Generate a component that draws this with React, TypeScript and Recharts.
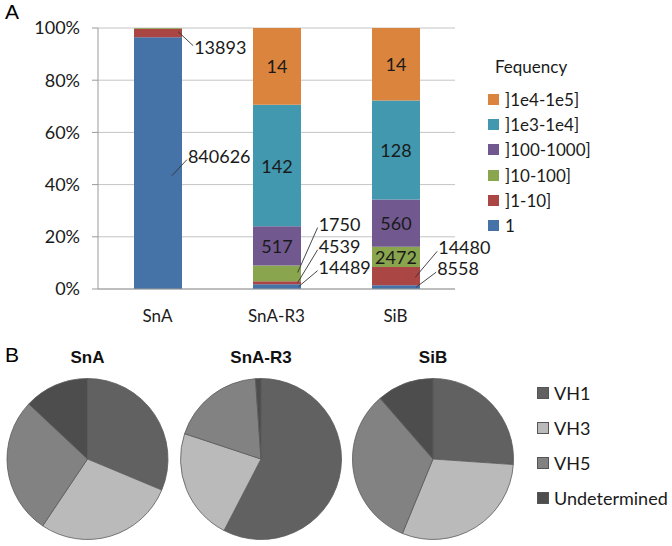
import React from "react"
import {
  BarChart,
  Bar,
  XAxis,
  YAxis,
  CartesianGrid,
  LabelList,
  Legend,
  PieChart,
  Pie,
  Cell,
} from "recharts"

// ---- panel A data (share of reads in %, and the counts printed on the segments)
const categories = ["SnA", "SnA-R3", "SiB"]
const bandNames = ["1", "]1-10]", "]10-100]", "]100-1000]", "]1e3-1e4]", "]1e4-1e5]"]
const bandColors = ["#4572A7", "#AA4643", "#89A54E", "#71588F", "#4198AF", "#DB843D"]

const share1 = [96.5, 1.8, 1.4]
const share1to10 = [3.2, 1.2, 7.0]
const share10to100 = [0.3, 6.0, 7.8]
const share100to1000 = [0, 15.0, 18.1]
const share1e3to1e4 = [0, 46.6, 37.9]
const share1e4to1e5 = [0, 29.4, 27.8]

const count1 = [840626, 14489, 8558]
const count1to10 = [13893, 4539, 14480]
const count10to100 = [null, 1750, 2472]
const count100to1000 = [null, 517, 560]
const count1e3to1e4 = [null, 142, 128]
const count1e4to1e5 = [null, 14, 14]

// ---- panel B data (% of each VH family)
const pieNames = ["VH1", "VH3", "VH5", "Undetermined"]
const pieColors = ["#616161", "#bababa", "#828282", "#4d4d4d"]
const vh1 = [31.3, 57.6, 26.1]
const vh3 = [28.1, 22.5, 30.1]
const vh5 = [27.6, 18.8, 32.4]
const undetermined = [13.0, 1.1, 11.4]

const shares = [share1, share1to10, share10to100, share100to1000, share1e3to1e4, share1e4to1e5]
const counts = [count1, count1to10, count10to100, count100to1000, count1e3to1e4, count1e4to1e5]

const barData = categories.map((name, i) => {
  const row: Record<string, any> = { name }
  shares.forEach((s, k) => {
    row["s" + k] = s[i]
    row["c" + k] = counts[k][i]
  })
  return row
})

const pieData = categories.map((_, i) =>
  pieNames.map((name, k) => ({ name, value: [vh1, vh3, vh5, undetermined][k][i] }))
)

// callouts: anchor as fraction of the segment, text offset from the anchor
type Callout = { fx: number; fy: number; dx: number; dy: number } | null
const callouts: Callout[][] = [
  // "1"
  [{ fx: 0.79, fy: 0.55, dx: 16, dy: -20 }, { fx: 0.95, fy: 0.5, dx: 20, dy: -20 }, { fx: 0.92, fy: 0.5, dx: 21, dy: -19 }],
  // "]1-10]"
  [{ fx: 0.92, fy: 0.35, dx: 16, dy: 15 }, { fx: 0.93, fy: 0.5, dx: 21, dy: -37 }, { fx: 0.9, fy: 0.56, dx: 23, dy: -30 }],
  // "]10-100]"
  [null, { fx: 0.93, fy: 0.45, dx: 21, dy: -49 }, null],
  [null, null, null],
  [null, null, null],
  [null, null, null],
]

const FONT = "Lato, 'Open Sans', sans-serif"
const AXIS = "#9a9a9a"

function segmentLabel(k: number) {
  return (props: any) => {
    const { x, y, width, height, value, index } = props
    if (value == null) return null
    const c = callouts[k][index]
    if (!c) {
      return (
        <text x={x + width / 2} y={y + height / 2} textAnchor="middle" dominantBaseline="central"
          fontSize={18} fontFamily={FONT} fill="#1a1a1a">{value}</text>
      )
    }
    const ax = x + width * c.fx
    const ay = y + height * c.fy
    const tx = ax + c.dx
    const ty = ay + c.dy
    return (
      <g>
        <line x1={ax} y1={ay} x2={tx - 1} y2={ty + (c.dy < 0 ? 4 : -1)} stroke="#333" strokeWidth={0.9} />
        <text x={tx} y={ty} dominantBaseline="central" fontSize={18} fontFamily={FONT} fill="#1a1a1a">{value}</text>
      </g>
    )
  }
}

function BandLegend(props: any) {
  const items = [...(props.payload || [])].reverse()
  return (
    <div style={{ fontFamily: FONT, color: "#1a1a1a" }}>
      <div style={{ fontSize: 17, marginLeft: 7, height: 24, lineHeight: "24px" }}>Fequency</div>
      <div style={{ height: 8 }} />
      {items.map((it: any) => (
        <div key={it.value} style={{ display: "flex", alignItems: "center", height: 25.2, fontSize: 17 }}>
          <span style={{ width: 11, height: 11, background: it.color, marginRight: 6 }} />
          {it.value}
        </div>
      ))}
    </div>
  )
}

function VhLegend(props: any) {
  const byName = new Map<string, any>()
  ;(props.payload || []).forEach((it: any) => {
    if (!byName.has(it.value)) byName.set(it.value, it)
  })
  return (
    <div style={{ fontFamily: FONT, color: "#1a1a1a" }}>
      {pieNames.filter((n) => byName.has(n)).map((n, k) => (
        <div key={n} style={{ display: "flex", alignItems: "center", height: 34.8, fontSize: 18 }}>
          <span style={{ width: 10, height: 10, background: pieColors[k], border: "1px solid #555", marginRight: 5 }} />
          {n}
        </div>
      ))}
    </div>
  )
}

const pieCenters = [87.5, 261, 433]

export default function App() {
  return (
    <div style={{ position: "absolute", left: 0, top: 0, width: 672, height: 546, background: "#fff", fontFamily: FONT }}>
      <div style={{ position: "absolute", left: 5, top: 0, fontSize: 21, fontFamily: "'Liberation Sans', Arial", lineHeight: "24px" }}>A</div>
      <div style={{ position: "absolute", left: 5, top: 343, fontSize: 21, fontFamily: "'Liberation Sans', Arial", lineHeight: "24px" }}>B</div>

      <div style={{ position: "absolute", left: 0, top: 0 }}>
        <BarChart width={672} height={330} data={barData} margin={{ top: 28, right: 217, left: 38, bottom: 11 }}>
          <CartesianGrid xAxisId="cat" vertical={false} stroke="#c4c4c4" />
          <XAxis xAxisId="ticks" type="number" domain={[0, 3]} ticks={[0, 1, 2, 3]} allowDataOverflow
            height={0} tick={false} axisLine={false} tickSize={6} tickLine={{ stroke: AXIS }} />
          <XAxis xAxisId="cat" dataKey="name" height={30} tickSize={0} tickMargin={21}
            axisLine={{ stroke: AXIS }} tickLine={false}
            tick={{ fontSize: 17, fill: "#1a1a1a", fontFamily: FONT }} />
          <YAxis width={60} domain={[0, 100]} ticks={[0, 20, 40, 60, 80, 100]} tickFormatter={(v: number) => `${v}%`}
            tickSize={6} tickMargin={12} axisLine={{ stroke: AXIS }} tickLine={{ stroke: AXIS }}
            tick={{ fontSize: 18, fill: "#1a1a1a", fontFamily: FONT }} />
          <Legend layout="vertical" align="center" verticalAlign="middle" content={BandLegend}
            wrapperStyle={{ position: "absolute", left: 488, top: 55, width: 180 }} />
          {bandNames.map((n, k) => (
            <Bar key={n} xAxisId="cat" dataKey={"s" + k} name={n} stackId="a" fill={bandColors[k]}
              barSize={48} isAnimationActive={false}>
              <LabelList dataKey={"c" + k} content={segmentLabel(k)} />
            </Bar>
          ))}
        </BarChart>
      </div>

      {categories.map((c, i) => (
        <div key={c} style={{ position: "absolute", left: pieCenters[i] - 60, width: 120, top: 348, textAlign: "center",
          fontFamily: "'Liberation Sans', Arial", fontWeight: "bold", fontSize: 17, color: "#111" }}>{c}</div>
      ))}

      <div style={{ position: "absolute", left: 0, top: 330 }}>
        <PieChart width={672} height={216} margin={{ top: 0, right: 0, left: 0, bottom: 0 }}>
          {pieData.map((d, i) => (
            <Pie key={i} data={d} dataKey="value" nameKey="name" cx={pieCenters[i]} cy={129} outerRadius={80.5}
              startAngle={90} endAngle={-270} stroke="#5a5a5a" strokeWidth={0.8} isAnimationActive={false}>
              {d.map((e, k) => (
                <Cell key={e.name} fill={pieColors[k]} />
              ))}
            </Pie>
          ))}
          <Legend layout="vertical" align="center" verticalAlign="middle" content={VhLegend}
            wrapperStyle={{ position: "absolute", left: 537, top: 46, width: 135 }} />
        </PieChart>
      </div>
    </div>
  )
}
